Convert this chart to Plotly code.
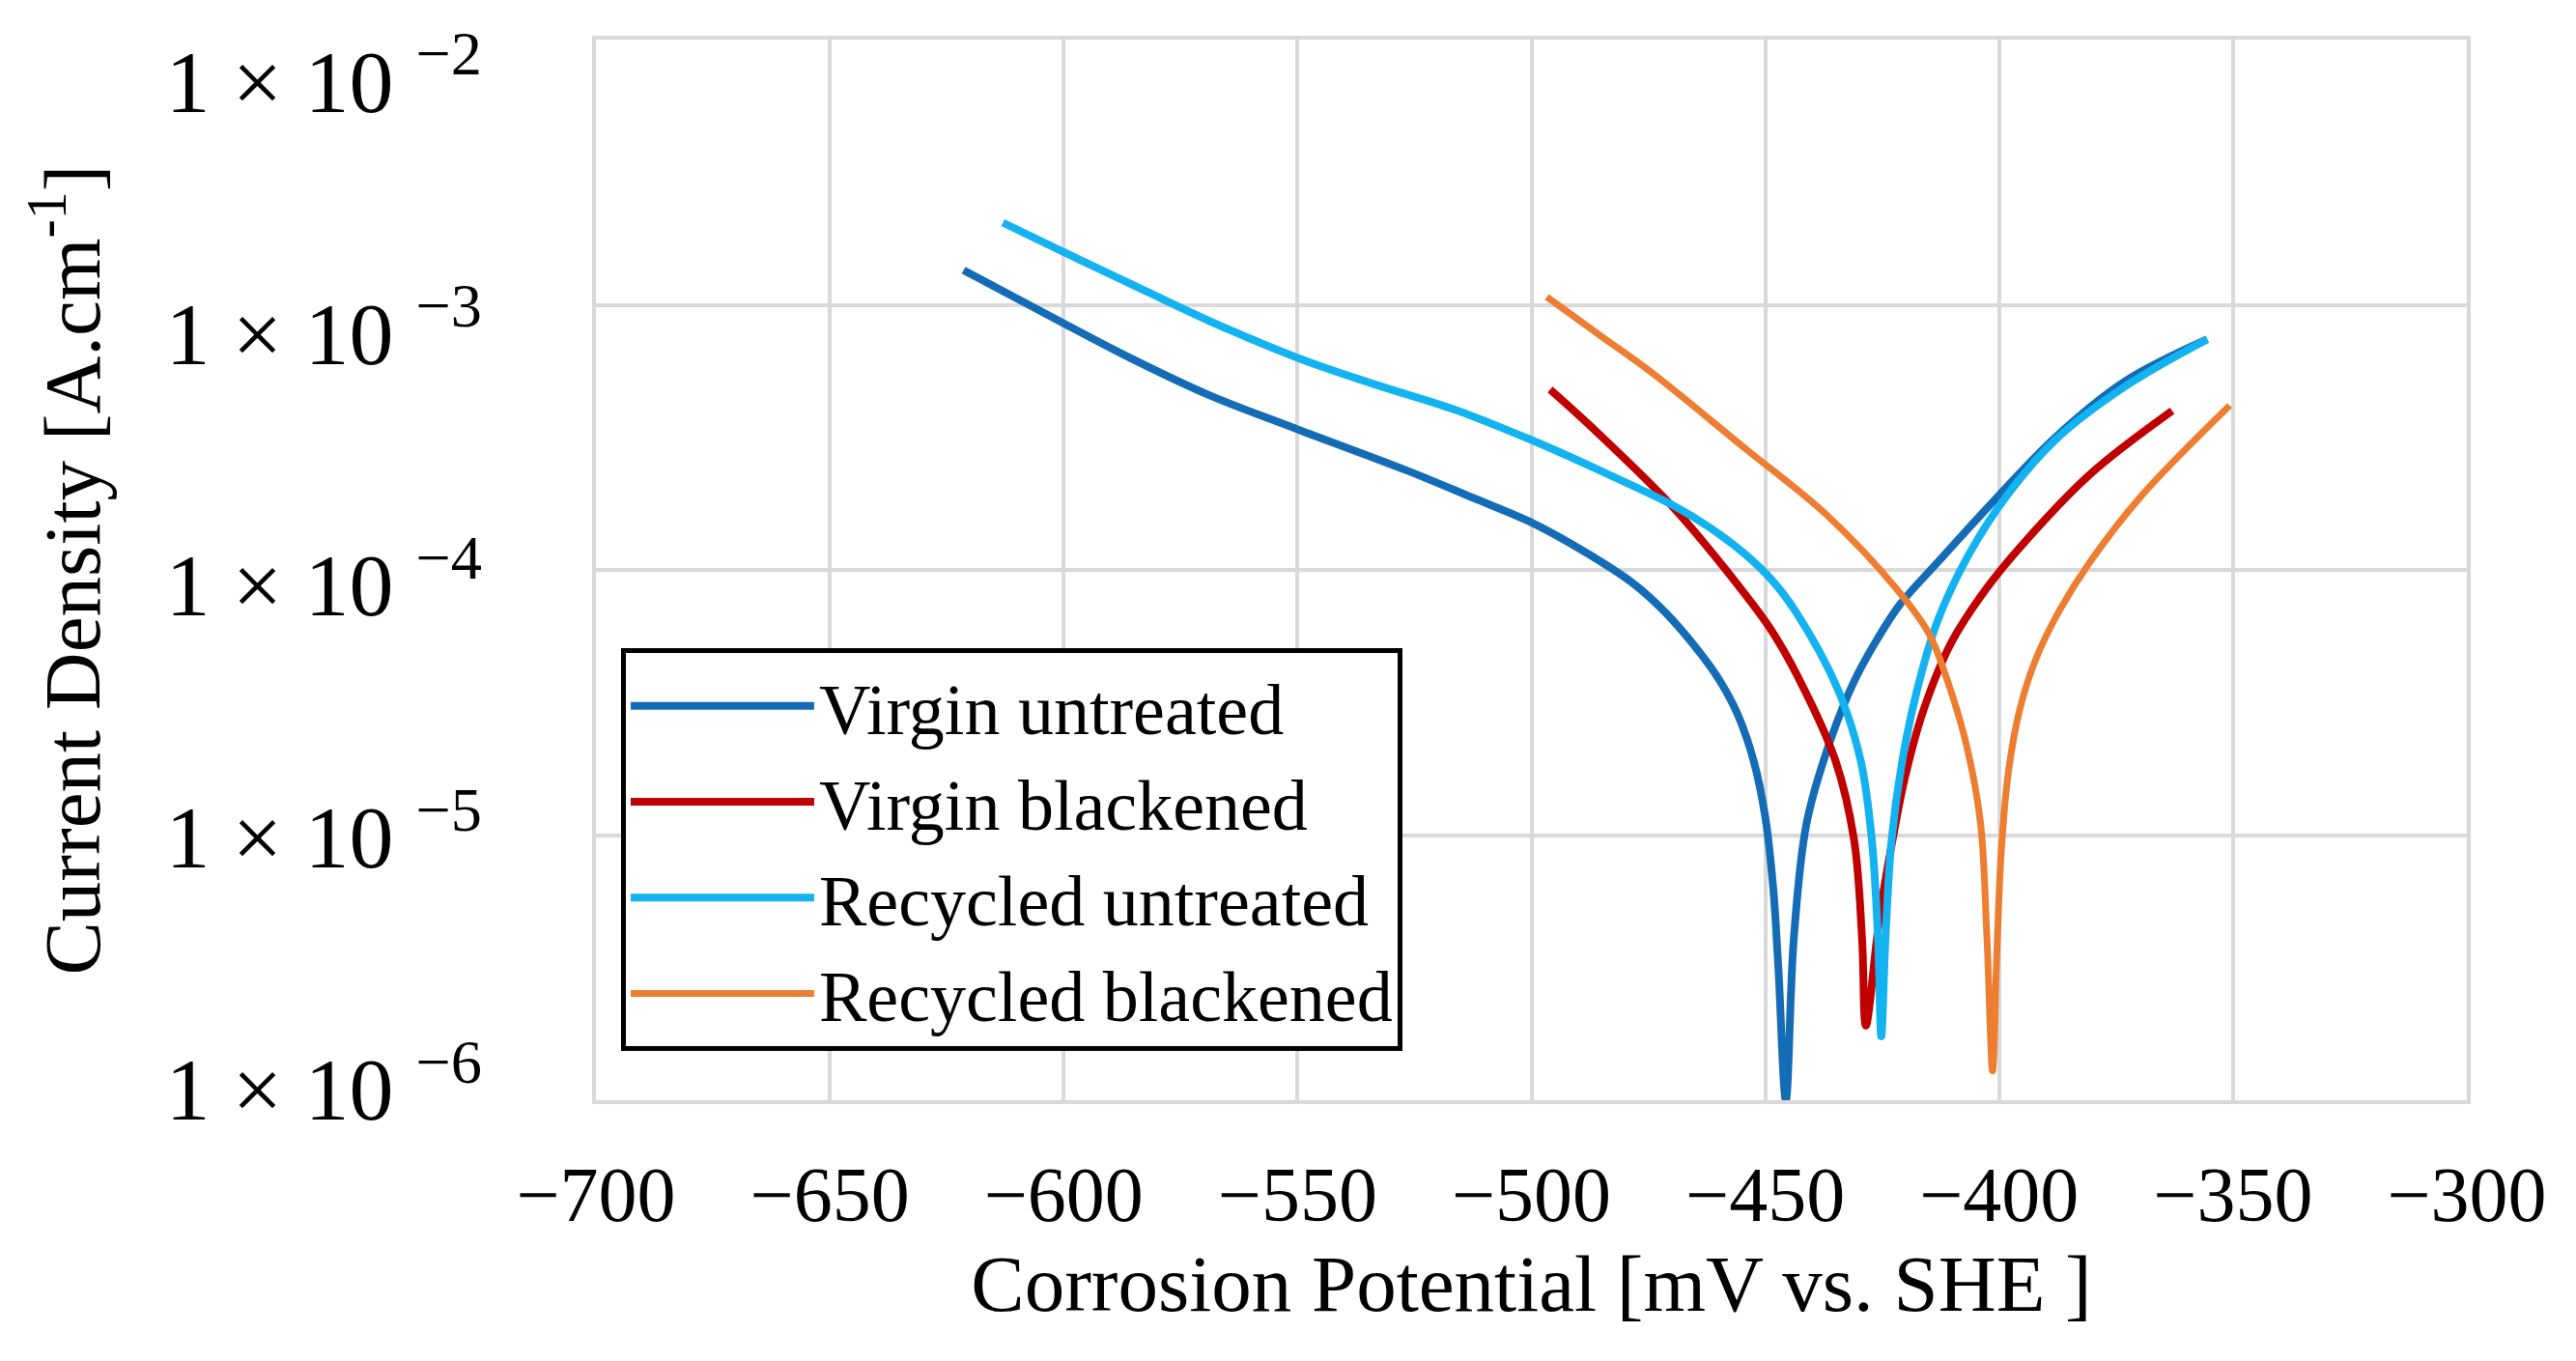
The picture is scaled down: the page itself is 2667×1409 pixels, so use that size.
import plotly.graph_objects as go

# Potentiodynamic polarisation curves
# potential in mV vs. SHE, current density in A/cm

vu_potential = [-621.4, -600, -587, -569, -550, -526.6, -512.8, -500, -488.6, -478.3, -471.4, -464.5,
                -460, -456, -452.5, -450, -448.3, -447.2, -445.6, -443.9, -441.2, -436.4, -431, -426, -421.2,
                -413.1, -402.7, -388, -373.2, -355.5]
vu_current = [1.35e-3, 8.51e-4, 6.46e-4, 4.57e-4, 3.39e-4, 2.37e-4, 1.88e-4, 1.51e-4, 1.17e-4, 8.91e-5,
              6.92e-5, 5.01e-5, 3.89e-5, 2.88e-5, 1.91e-5, 1.17e-5, 6.31e-6, 3.16e-6, 1.0e-6, 4.07e-6, 1.10e-5,
              2.19e-5, 3.80e-5, 5.50e-5, 7.41e-5, 1.07e-4, 1.70e-4, 3.16e-4, 5.13e-4, 7.41e-4]

vb_potential = [-496, -486, -469.4, -454.4, -449, -443.4, -435, -431, -429.3, -428.5, -425.5, -422.8, -420.1,
                -416, -410.1, -402.7, -395.3, -380.6, -363]
vb_current = [4.79e-4, 3.31e-4, 1.70e-4, 8.13e-5, 6.03e-5, 4.07e-5, 1.91e-5, 9.55e-6, 4.07e-6, 1.91e-6, 5.01e-6,
              9.55e-6, 1.66e-5, 3.02e-5, 5.37e-5, 8.51e-5, 1.23e-4, 2.29e-4, 3.98e-4]

ru_potential = [-613, -600, -587, -569, -550, -533.5, -515.7, -500, -486, -469.4, -462, -454.4, -448.5, -443.4,
                -434.5, -429.6, -427.2, -425.9, -425.2, -424.3, -423.0, -420.7, -417.5, -413.1, -406.4, -398.3,
                -388, -373.2, -355.5]
ru_current = [2.04e-3, 1.58e-3, 1.23e-3, 8.71e-4, 6.31e-4, 5.01e-4, 3.98e-4, 3.09e-4, 2.40e-4, 1.74e-4, 1.45e-4,
              1.15e-4, 9.12e-5, 6.92e-5, 3.55e-5, 1.91e-5, 9.55e-6, 4.07e-6, 1.74e-6, 4.07e-6, 9.55e-6, 1.91e-5,
              3.55e-5, 6.46e-5, 1.15e-4, 1.91e-4, 3.09e-4, 4.90e-4, 7.41e-4]

rb_potential = [-496.7, -485, -474, -454.4, -437, -422, -415, -411, -407, -404, -402.6, -401.4,
                -400.5, -399.5, -398, -395.5, -392, -387, -380.6, -369.5, -350.7]
rb_current = [1.07e-3, 7.59e-4, 5.50e-4, 2.88e-4, 1.62e-4, 8.51e-5, 5.75e-5, 3.80e-5, 2.19e-5, 1.12e-5, 4.07e-6,
              1.29e-6, 3.55e-6, 8.91e-6, 1.74e-5, 3.02e-5, 4.68e-5, 7.08e-5, 1.07e-4, 1.91e-4, 4.17e-4]

series_names = ["Virgin untreated", "Virgin blackened", "Recycled untreated", "Recycled blackened"]
series_colors = ["#156CB6", "#C00000", "#13B2F0", "#ED7D31"]

y_tickvals = [1e-6, 1e-5, 1e-4, 1e-3, 1e-2]
y_ticktext = ["1 × 10 <sup>−6</sup>", "1 × 10 <sup>−5</sup>", "1 × 10 <sup>−4</sup>",
              "1 × 10 <sup>−3</sup>", "1 × 10 <sup>−2</sup>"]
x_tickvals = [-700, -650, -600, -550, -500, -450, -400, -350, -300]

FONT = "Liberation Serif"
GRID = "#d9d9d9"

fig = go.Figure()
all_data = [(vu_potential, vu_current), (vb_potential, vb_current),
            (ru_potential, ru_current), (rb_potential, rb_current)]
widths = [8, 8, 8, 7]
for (xs, ys), name, color, w in zip(all_data, series_names, series_colors, widths):
    fig.add_trace(go.Scatter(
        x=xs, y=ys, name=name, mode="lines",
        line=dict(color=color, width=w, shape="spline", smoothing=1.0),
    ))

# empty trace so the label axis gets drawn
fig.add_trace(go.Scatter(x=[None], y=[None], yaxis="y2", showlegend=False, hoverinfo="skip"))

fig.update_layout(
    width=2667, height=1409,
    paper_bgcolor="white", plot_bgcolor="white",
    margin=dict(l=609, r=121, t=33, b=278),
    font=dict(family=FONT, size=80, color="black"),
    showlegend=True,
    legend=dict(
        x=0.0134, y=0.426, xanchor="left", yanchor="top",
        bgcolor="white", bordercolor="black", borderwidth=5,
        font=dict(family=FONT, size=74, color="black"),
        itemwidth=190,
    ),
    xaxis=dict(
        range=[-700, -300], tickvals=x_tickvals,
        showgrid=True, gridcolor=GRID, gridwidth=4,
        showline=True, linecolor=GRID, linewidth=4, mirror=True,
        zeroline=False, ticks="", ticklabelstandoff=25,
        tickfont=dict(family=FONT, size=80),
        title=dict(text="Corrosion Potential [mV vs. SHE ]", font=dict(family=FONT, size=83), standoff=20),
    ),
    yaxis=dict(
        type="log", range=[-6, -2], tickvals=y_tickvals,
        showgrid=True, gridcolor=GRID, gridwidth=4,
        showline=True, linecolor=GRID, linewidth=4, mirror=True,
        zeroline=False, ticks="", showticklabels=False,
    ),
    # the labels in the source sit slightly off the gridlines, so they live on their own axis
    yaxis2=dict(
        overlaying="y", side="left", type="log", range=[-6.0455, -1.8375],
        tickvals=y_tickvals, ticktext=y_ticktext,
        showgrid=False, showline=False, zeroline=False, ticks="",
        ticklabelstandoff=117, ticklabeloverflow="allow",
        tickfont=dict(family=FONT, size=92),
        title=dict(text="Current Density [A.cm<sup>-1</sup>]", font=dict(family=FONT, size=83), standoff=40),
    ),
)

fig.write_html("out.html")
